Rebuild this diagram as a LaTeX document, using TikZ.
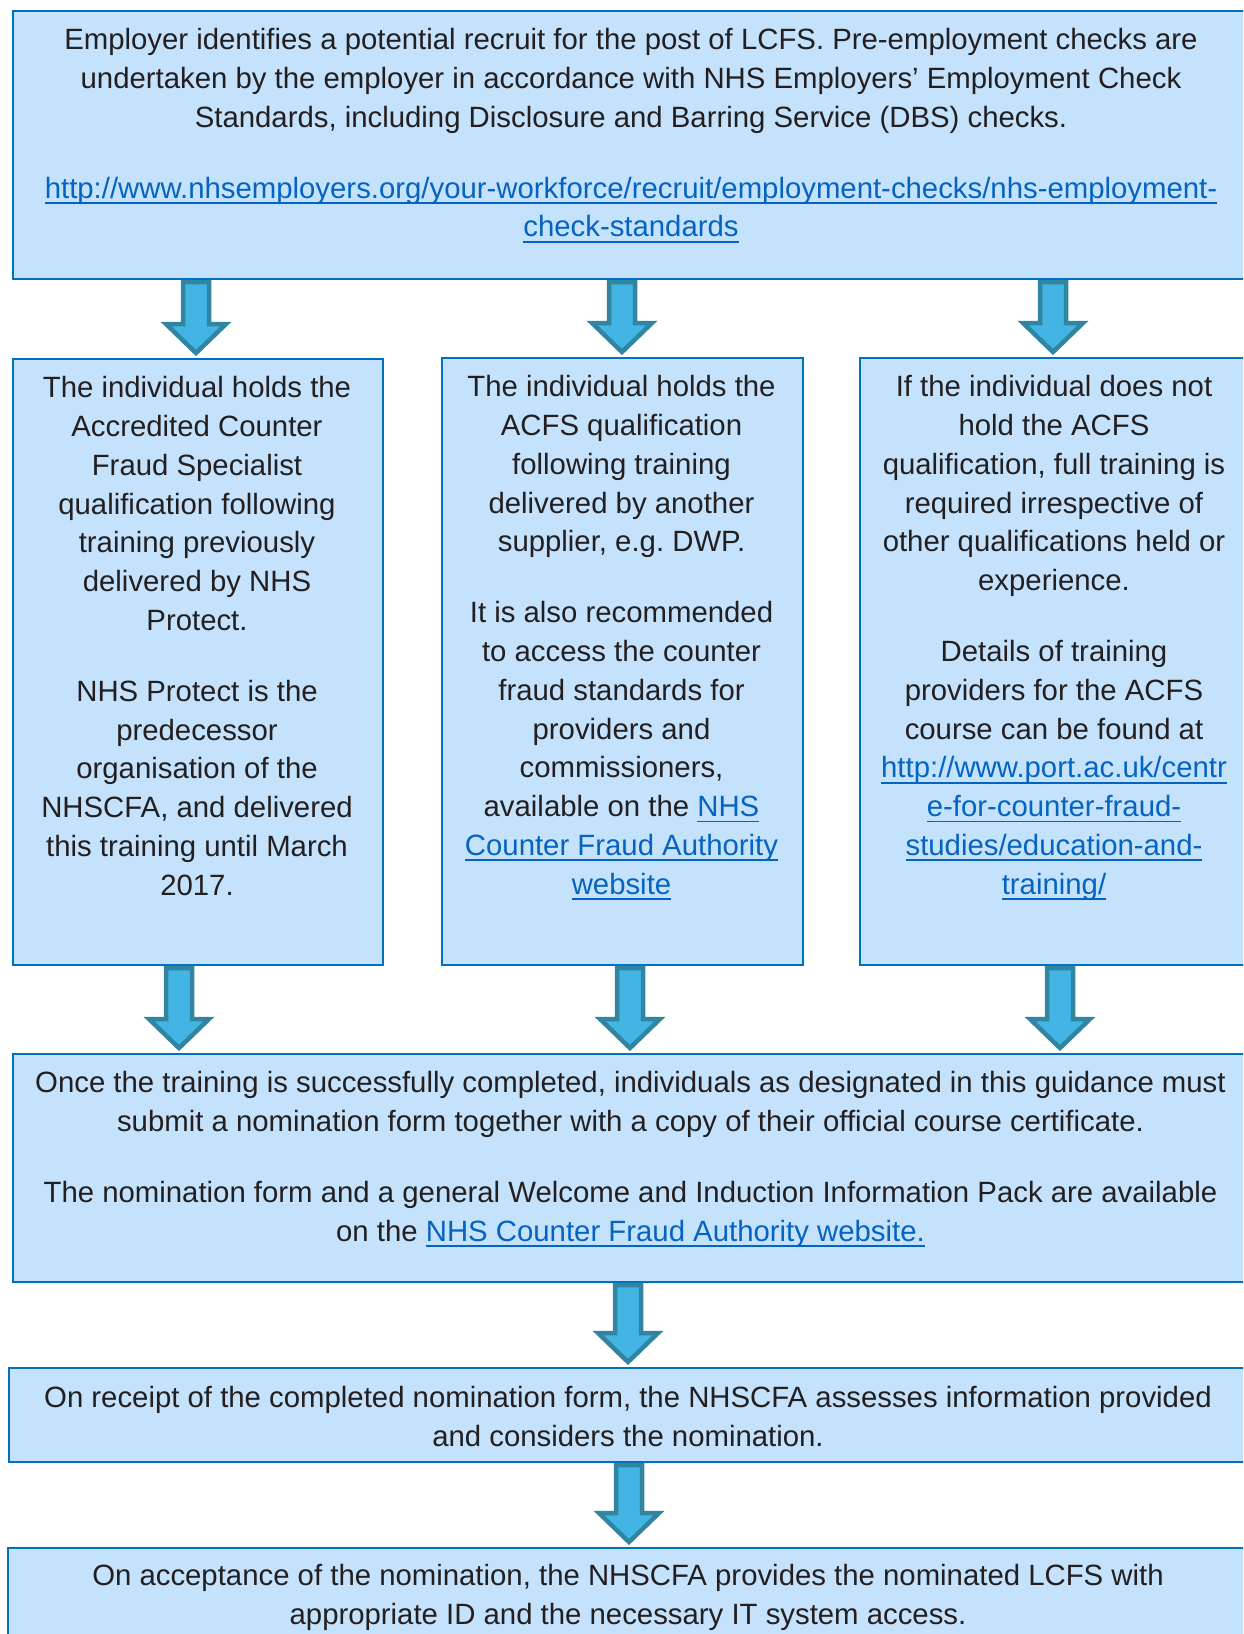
\documentclass[tikz,border=0pt]{standalone}
\usepackage{fontspec}
\setmainfont{Liberation Sans}
\usepackage{tikz}
\usetikzlibrary{calc}

\definecolor{boxfill}{RGB}{196,226,251}
\definecolor{boxedge}{RGB}{0,112,192}
\definecolor{arrowfill}{RGB}{67,181,229}
\definecolor{arrowedge}{RGB}{49,133,160}
\definecolor{textgrey}{RGB}{35,31,32}
\definecolor{linkblue}{RGB}{5,99,193}

\newcommand{\lnk}[1]{{\color{linkblue}\setbox0\hbox{#1}\rlap{\rule[-2.9pt]{\wd0}{0.9pt}}\box0}}

\begin{document}
\begin{tikzpicture}[x=0.5pt, y=-0.5pt,
        box_style/.style={rectangle, draw=boxedge, fill=boxfill, line width=1pt, anchor=north west, inner sep=0pt},
        text_style/.style={anchor=north, align=center, inner sep=0pt, text=textgrey, font=\fontsize{14.67}{19.4}\selectfont\frenchspacing},
        arrow_style/.style={draw=arrowedge, fill=arrowfill, line width=2.25pt,
            to path={let \p1=(\tikztostart), \p2=(\tikztotarget) in
                (\x1-6.5pt,\y1-1pt) -- (\x1+6.5pt,\y1-1pt) -- (\x1+6.5pt,\y2+17pt) -- (\x1+15pt,\y2+17pt)
                -- (\x1,\y2+2.5pt) -- (\x1-15pt,\y2+17pt) -- (\x1-6.5pt,\y2+17pt) -- cycle}}]

        \useasboundingbox (0,0) rectangle (1243,1634);
        \clip (0,0) rectangle (1243,1634);

        % boxes
        \node [box_style, minimum width=619pt, minimum height=134pt] (employer) at (12,10) {};
        \node [box_style, minimum width=185pt, minimum height=303pt] (protect) at (12,358) {};
        \node [box_style, minimum width=180.5pt, minimum height=303.5pt] (supplier) at (441,357) {};
        \node [box_style, minimum width=195.5pt, minimum height=303.5pt] (training) at (858.5,357) {};
        \node [box_style, minimum width=618.5pt, minimum height=114pt] (nomination) at (12,1053) {};
        \node [box_style, minimum width=620.5pt, minimum height=47pt] (assess) at (8,1367) {};
        \node [box_style, minimum width=621.5pt, minimum height=60pt] (access) at (7,1547) {};

        % texts
        \node [text_style] (employer_text) at (631,28) {Employer identifies a potential recruit for the post of LCFS. Pre-employment checks are\\
            undertaken by the employer in accordance with NHS Employers’ Employment Check\\
            Standards, including Disclosure and Barring Service (DBS) checks.\\[16pt]
            \lnk{http://www.nhsemployers.org/your-workforce/recruit/employment-checks/nhs-employment-}\\
            \lnk{check-standards}};
        \node [text_style] (protect_text) at (197,376) {The individual holds the\\ Accredited Counter\\ Fraud Specialist\\
            qualification following\\ training previously\\ delivered by NHS\\ Protect.\\[16pt]
            NHS Protect is the\\ predecessor\\ organisation of the\\ NHSCFA, and delivered\\
            this training until March\\ 2017.};
        \node [text_style] (supplier_text) at (621.5,375) {The individual holds the\\ ACFS qualification\\ following training\\
            delivered by another\\ supplier, e.g. DWP.\\[16pt]
            It is also recommended\\ to access the counter\\ fraud standards for\\ providers and\\
            commissioners,\\ available on the \lnk{NHS}\\ \lnk{Counter Fraud Authority}\\ \lnk{website}};
        \node [text_style] (training_text) at (1054,375) {If the individual does not\\ hold the ACFS\\
            qualification, full training is\\ required irrespective of\\ other qualifications held or\\ experience.\\[16pt]
            Details of training\\ providers for the ACFS\\ course can be found at\\
            \lnk{http://www.port.ac.uk/centr}\\ \lnk{e-for-counter-fraud-}\\ \lnk{studies/education-and-}\\ \lnk{training/}};
        \node [text_style] (nomination_text) at (630.5,1071) {Once the training is successfully completed, individuals as designated in this guidance must\\
            submit a nomination form together with a copy of their official course certificate.\\[16pt]
            The nomination form and a general Welcome and Induction Information Pack are available\\
            on the \lnk{NHS Counter Fraud Authority website.}};
        \node [text_style] (assess_text) at (628,1386) {On receipt of the completed nomination form, the NHSCFA assesses information provided\\
            and considers the nomination.};
        \node [text_style] (access_text) at (628,1564) {On acceptance of the nomination, the NHSCFA provides the nominated LCFS with\\
            appropriate ID and the necessary IT system access.};

        % arrows
        \draw [arrow_style] (196,0 |- employer.south) to (196,0 |- protect.north);
        \draw [arrow_style] (622,0 |- employer.south) to (622,0 |- supplier.north);
        \draw [arrow_style] (1053,0 |- employer.south) to (1053,0 |- training.north);
        \draw [arrow_style] (179,0 |- protect.south) to (179,0 |- nomination.north);
        \draw [arrow_style] (630,0 |- supplier.south) to (630,0 |- nomination.north);
        \draw [arrow_style] (1060,0 |- training.south) to (1060,0 |- nomination.north);
        \draw [arrow_style] (628,0 |- nomination.south) to (628,0 |- assess.north);
        \draw [arrow_style] (629,0 |- assess.south) to (629,0 |- access.north);
\end{tikzpicture}
\end{document}
